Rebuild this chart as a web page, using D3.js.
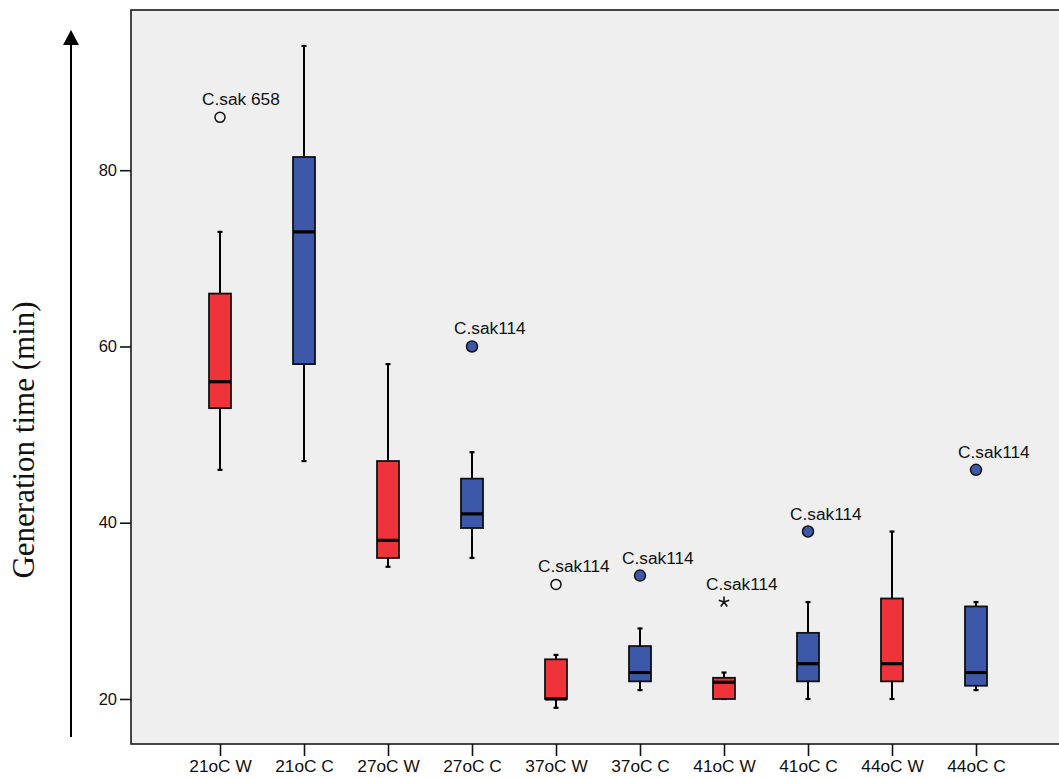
<!DOCTYPE html>
<html>
<head>
<meta charset="utf-8">
<script src="https://cdn.jsdelivr.net/npm/d3@7/dist/d3.min.js"></script>
<style>
  html, body { margin: 0; padding: 0; background: #ffffff; }
  svg { display: block; }
  text { fill: #111; }
</style>
</head>
<body>
<svg id="chart" width="1059" height="778"></svg>
<script>
// Generation time (min) per temperature / strain group
const categories   = ["21oC W", "21oC C", "27oC W", "27oC C", "37oC W", "37oC C", "41oC W", "41oC C", "44oC W", "44oC C"];
const whiskerLow   = [46, 47, 35, 36, 19, 21, 20, 20, 20, 21];
const quartile1    = [53, 58, 36, 39.4, 20, 22, 20, 22, 22, 21.5];
const medians      = [56, 73, 38, 41, 20, 23, 21.9, 24, 24, 23];
const quartile3    = [66, 81.5, 47, 45, 24.5, 26, 22.4, 27.5, 31.4, 30.5];
const whiskerHigh  = [73, 94.1, 58, 48, 25, 28, 23, 31, 39, 31];
const groupType    = ["W", "C", "W", "C", "W", "C", "W", "C", "W", "C"];

// Individual outlying strains
const outlierCategory = ["21oC W", "27oC C", "37oC W", "37oC C", "41oC W", "41oC C", "44oC C"];
const outlierValue    = [86, 60, 33, 34, 31, 39, 46];
const outlierLabel    = ["C.sak 658", "C.sak114", "C.sak114", "C.sak114", "C.sak114", "C.sak114", "C.sak114"];
const outlierShape    = ["open", "filled", "open", "filled", "star", "filled", "filled"];

const yTicks = [20, 40, 60, 80];

const fillFor = { W: "#ef333a", C: "#3e58a9" };
const sans = "'Liberation Sans', Arial, sans-serif";
const serif = "'Liberation Serif', 'Times New Roman', serif";

const svg = d3.select("#chart");

const frame = { left: 131, top: 10, right: 1066, bottom: 744 };

const x = d3.scalePoint().domain(categories).range([220, 976]);
const y = d3.scaleLinear().domain([14.89, 98.18]).range([frame.bottom, frame.top]);

// plot background
svg.append("rect")
  .attr("x", frame.left).attr("y", frame.top)
  .attr("width", frame.right - frame.left).attr("height", frame.bottom - frame.top)
  .attr("fill", "#efefef")
  .attr("stroke", "#1a1a1a").attr("stroke-width", 1.6);

// y axis ticks
const yAxis = svg.append("g")
  .attr("transform", `translate(${frame.left},0)`)
  .call(d3.axisLeft(y).tickValues(yTicks).tickSize(11).tickPadding(3).tickFormat(d3.format("d")));
yAxis.select(".domain").remove();
yAxis.selectAll(".tick line").attr("stroke", "#111").attr("stroke-width", 1.6);
yAxis.selectAll(".tick text").style("font-size", "16.5px").style("font-family", sans).attr("fill", "#111");

// x axis ticks
const xAxis = svg.append("g")
  .attr("transform", `translate(0,${frame.bottom})`)
  .call(d3.axisBottom(x).tickSize(12).tickPadding(4));
xAxis.select(".domain").remove();
xAxis.selectAll(".tick line").attr("stroke", "#111").attr("stroke-width", 1.6);
xAxis.selectAll(".tick text").style("font-size", "17.3px").style("font-family", sans).attr("fill", "#111");

// boxes
const boxW = 22, capW = 5;
const boxes = svg.append("g");
categories.forEach((c, i) => {
  const cx = x(c);
  const g = boxes.append("g");
  // whisker stems
  g.append("line").attr("x1", cx).attr("x2", cx)
    .attr("y1", y(whiskerHigh[i])).attr("y2", y(quartile3[i]))
    .attr("stroke", "#000").attr("stroke-width", 2);
  g.append("line").attr("x1", cx).attr("x2", cx)
    .attr("y1", y(quartile1[i])).attr("y2", y(whiskerLow[i]))
    .attr("stroke", "#000").attr("stroke-width", 2);
  // whisker caps
  [whiskerHigh[i], whiskerLow[i]].forEach(v => {
    g.append("line").attr("x1", cx - capW / 2).attr("x2", cx + capW / 2)
      .attr("y1", y(v)).attr("y2", y(v))
      .attr("stroke", "#000").attr("stroke-width", 2.2);
  });
  // box
  g.append("rect")
    .attr("x", cx - boxW / 2).attr("y", y(quartile3[i]))
    .attr("width", boxW).attr("height", Math.max(1, y(quartile1[i]) - y(quartile3[i])))
    .attr("fill", fillFor[groupType[i]])
    .attr("stroke", "#111").attr("stroke-width", 1.8);
  // median
  g.append("line").attr("x1", cx - boxW / 2).attr("x2", cx + boxW / 2)
    .attr("y1", y(medians[i])).attr("y2", y(medians[i]))
    .attr("stroke", "#000").attr("stroke-width", 3.2);
});

// five-spoke asterisk used for extreme values
function asteriskPath(cx, cy, r) {
  let d = "";
  for (let k = 0; k < 5; k++) {
    const a = (-90 + k * 72) * Math.PI / 180;
    d += `M${cx},${cy}L${cx + r * Math.cos(a)},${cy + r * Math.sin(a)}`;
  }
  return d;
}

// outliers with labels
const outs = svg.append("g");
outlierCategory.forEach((c, i) => {
  const cx = x(c), cy = y(outlierValue[i]);
  if (outlierShape[i] === "star") {
    outs.append("path").attr("d", asteriskPath(cx, cy, 5.5))
      .attr("fill", "none").attr("stroke", "#111").attr("stroke-width", 1.6);
  } else {
    outs.append("circle").attr("cx", cx).attr("cy", cy)
      .attr("r", outlierShape[i] === "filled" ? 5.5 : 5)
      .attr("fill", outlierShape[i] === "filled" ? fillFor.C : "none")
      .attr("stroke", "#111").attr("stroke-width", 1.5);
  }
  outs.append("text").attr("x", cx - 18).attr("y", cy - 12)
    .style("font-size", "17.3px").style("font-family", sans).text(outlierLabel[i]);
});

// vertical axis arrow
svg.append("line").attr("x1", 71).attr("x2", 71).attr("y1", 737).attr("y2", 42)
  .attr("stroke", "#000").attr("stroke-width", 2);
svg.append("path").attr("d", "M71,30 L63,45 L79,45 Z").attr("fill", "#000");

// axis title
svg.append("text")
  .attr("transform", "translate(34,440) rotate(-90)")
  .attr("text-anchor", "middle")
  .style("font-family", serif)
  .style("font-size", "31px")
  .text("Generation time (min)");
</script>
</body>
</html>
